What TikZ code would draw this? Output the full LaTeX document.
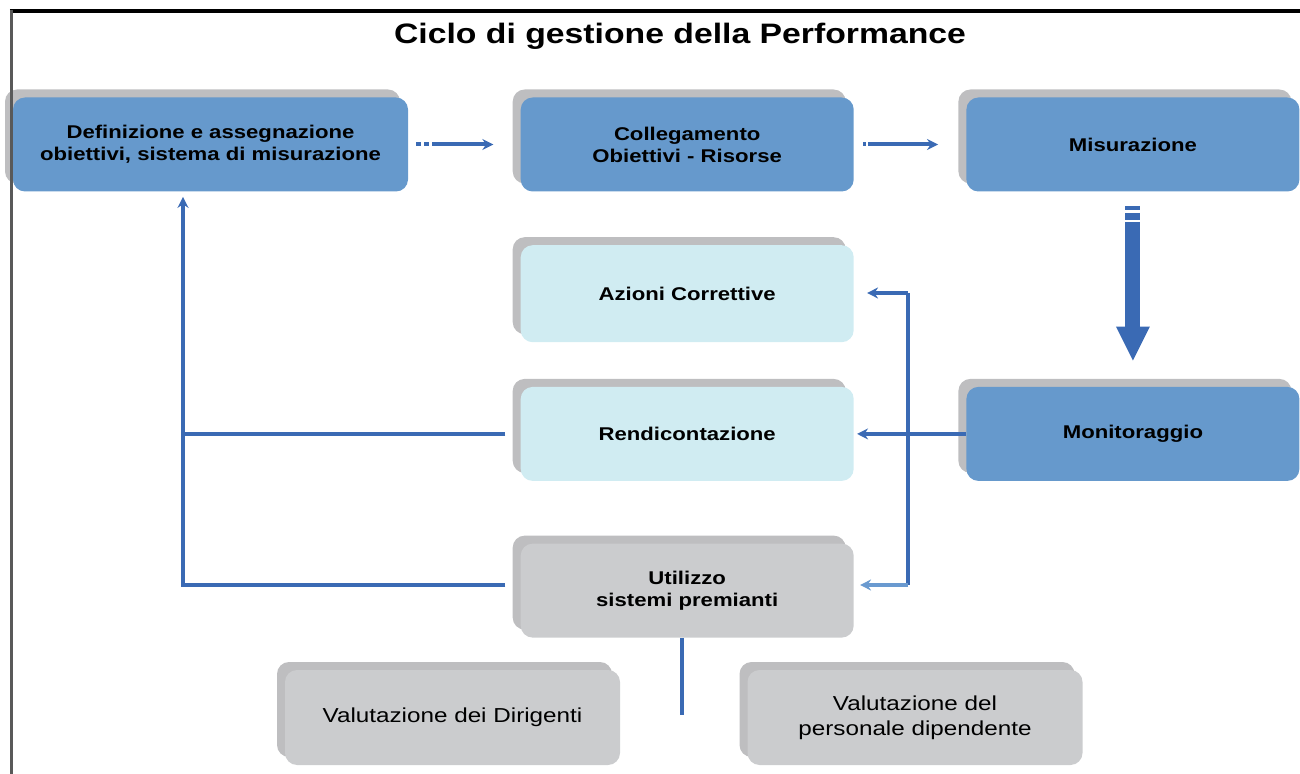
\documentclass[tikz,border=0pt]{standalone}
\usepackage{fontspec}
\setmainfont{Liberation Sans}[FakeStretch=1.2]
\usetikzlibrary{positioning, arrows.meta, shadows}

\definecolor{boxblue}{RGB}{102,153,204}
\definecolor{boxcyan}{RGB}{208,236,242}
\definecolor{boxgray}{RGB}{203,204,206}
\definecolor{shadowgray}{RGB}{190,190,192}
\definecolor{lineblue}{RGB}{58,106,180}
\definecolor{lightblue}{RGB}{106,154,208}

\begin{document}
\begin{tikzpicture}[
    node distance=1cm and 2.24cm,
    box/.style={rectangle, rounded corners=0.24cm, fill=#1, minimum width=6.66cm, minimum height=1.88cm, align=center, font=\fontsize{10.5}{12.5}\selectfont\bfseries, drop shadow={shadow xshift=-0.16cm, shadow yshift=0.16cm, fill=shadowgray, opacity=1}},
    plainbox/.style={box=boxgray, minimum width=6.7cm, minimum height=1.9cm, font=\fontsize{11.5}{14}\selectfont},
    arrow/.style={-{Stealth[length=0.22cm, width=0.22cm]}, line width=0.08cm, draw=lineblue},
    line/.style={line width=0.08cm, draw=lineblue},
    bigarrow/.style={-{Triangle[width=0.62cm, length=0.7cm]}, line width=0.3cm, draw=lineblue, dash pattern=on 0.08cm off 0.06cm on 0.14cm off 0.04cm on 8cm}
]
    \useasboundingbox (0,0) rectangle (26,-15.48);

    \node[font=\fontsize{16}{19}\selectfont\bfseries] (title) at (13.6,-0.72) {Ciclo di gestione della Performance};

    \node[box=boxblue, minimum width=7.9cm] (def) at (4.21,-2.89) {Definizione e assegnazione\\obiettivi, sistema di misurazione};
    \node[box=boxblue, right=of def] (coll) {Collegamento\\Obiettivi - Risorse};
    \node[box=boxblue, right=of coll] (mis) {Misurazione};
    \node[box=boxcyan, below=1.06cm of coll, minimum height=1.94cm] (azioni) {Azioni Correttive};
    \node[box=boxcyan, below=0.88cm of azioni] (rend) {Rendicontazione};
    \node[box=boxblue, right=of rend] (mon) {Monitoraggio};
    \node[box=boxgray, below=1.24cm of rend] (util) {Utilizzo\\sistemi premianti};
    \node[plainbox] (valdir) at (9.05,-14.35) {Valutazione dei Dirigenti};
    \node[plainbox] (valpers) at (18.3,-14.35) {Valutazione del\\personale dipendente};

    \coordinate (fbtop) at (18.16,-5.86);
    \coordinate (fbbot) at (18.16,-11.7);
    \coordinate (back) at (3.66,-11.7);
    \coordinate (split) at (13.64,-14.3);

    % upper row
    \draw[arrow, dash pattern=on 0.1cm off 0.06cm on 0.1cm off 0.06cm on 3cm, shorten <=0.16cm, shorten >=0.54cm] (def) -- (coll);
    \draw[arrow, dash pattern=on 0.06cm off 0.04cm on 3cm, shorten <=0.18cm, shorten >=0.56cm] (coll) -- (mis);
    \draw[bigarrow, shorten <=0.28cm, shorten >=0.5cm] (mis) -- (mon);

    % monitoring feedback
    \draw[arrow, shorten >=0.06cm] (mon) -- (rend);
    \draw[line] (fbtop) -- (fbbot);
    \draw[arrow, shorten >=0.26cm] (fbtop) -- (fbtop -| azioni.east);
    \draw[arrow, draw=lightblue, shorten >=0.12cm] (fbbot) -- (fbbot -| util.east);

    % back to the first step
    \draw[arrow, shorten >=0.1cm] ([xshift=-0.3cm]back -| util.west) -- (back) -- (back |- def.south);
    \draw[line] ([xshift=-0.3cm]rend.west) -- (back |- rend.west);

    \draw[line] (split |- util.south) -- (split);

    % frame
    \draw[line width=0.08cm] (0.2,-0.22) -- (26,-0.22);
    \draw[line width=0.06cm, draw=black!65] (0.22,-0.2) -- (0.22,-15.48);
\end{tikzpicture}
\end{document}
